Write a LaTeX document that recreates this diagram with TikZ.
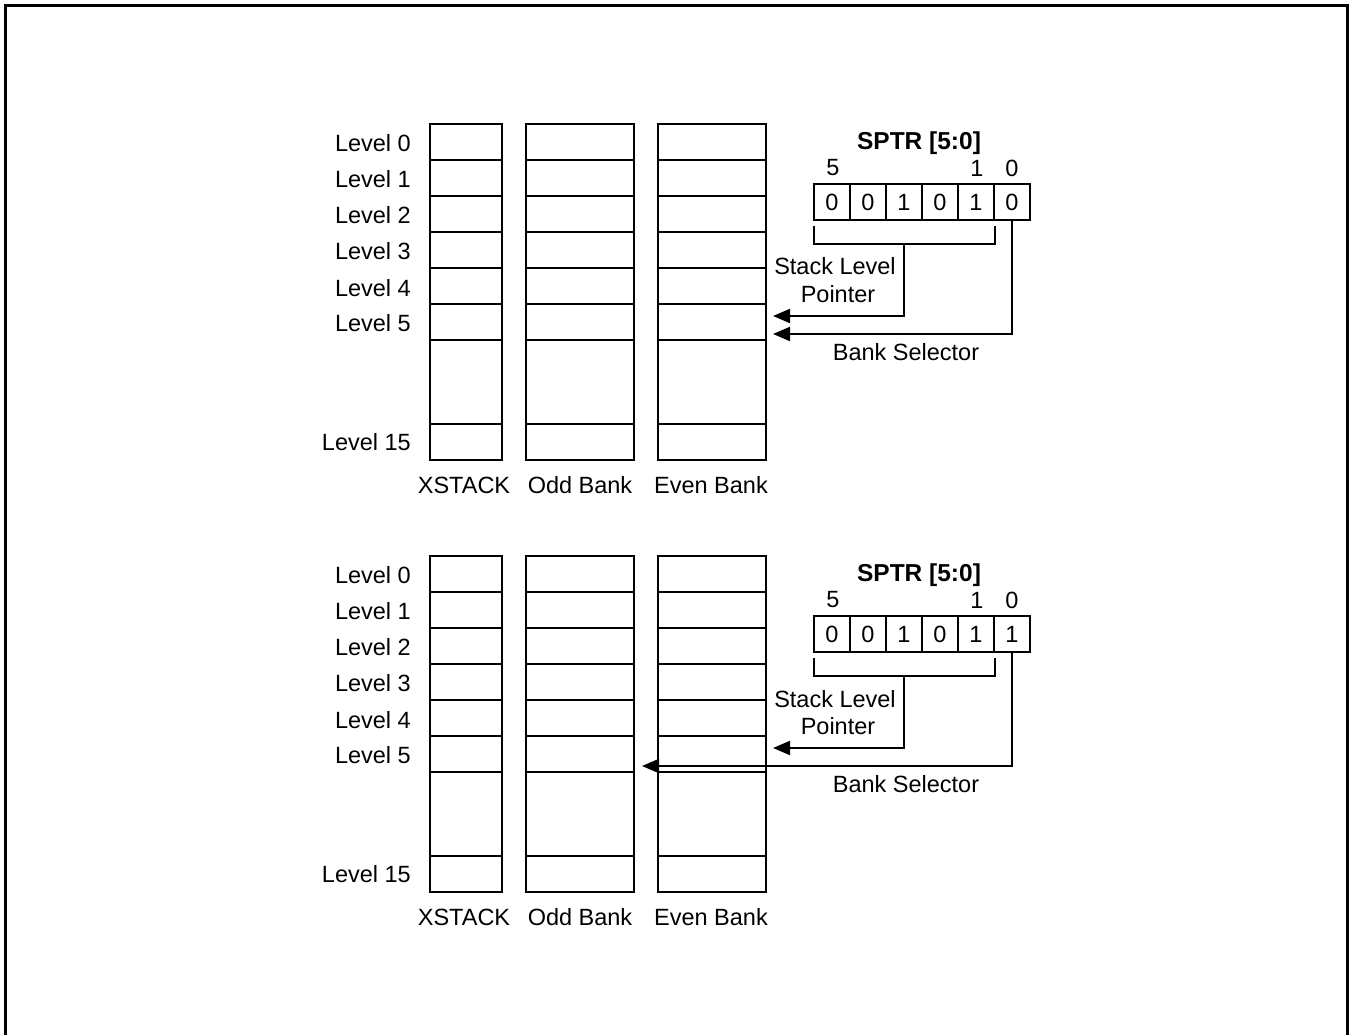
\documentclass[tikz,border=0pt]{standalone}
\usepackage{fontspec}
\setmainfont{Liberation Sans}
\usetikzlibrary{arrows.meta}
\newcommand\stackpanel[4]{% #1 prefix, #2 y offset, #3 bit 0 value, #4 x of bank selector tip
\begin{scope}[shift={(0,#2)}]
  % stack columns
  \foreach \xa/\xb in {430/502, 526/634, 658/766}{
    \draw[box] (\xa,124) rectangle (\xb,460);
    \foreach \yy in {160,196,232,268,304,340,424}{
      \draw[box] (\xa,\yy) -- (\xb,\yy);
    }
  }
  % level labels
  \foreach \t/\yy [count=\i] in {Level 0/143, Level 1/179, Level 2/215, Level 3/251, Level 4/288, Level 5/323, Level 15/442}{
    \node[lbl, anchor=east] (#1lev\i) at (411,\yy) {\t};
  }
  \node[lbl] (#1xs) at (464,485) {XSTACK};
  \node[lbl] (#1odd) at (580,485) {Odd Bank};
  \node[lbl] (#1even) at (711,485) {Even Bank};
  % SPTR register
  \node[lbl, font=\fontsize{24.5}{29}\selectfont\bfseries] (#1title) at (919,143) {SPTR [5:0]};
  \node[lbl] (#1b5) at (833,168) {5};
  \node[lbl] (#1b1) at (977,168) {1};
  \node[lbl] (#1b0) at (1012,168) {0};
  \foreach \v/\xx [count=\i] in {0/832, 0/868, 1/904, 0/940, 1/976, #3/1012}{
    \node[cell] (#1c\i) at (\xx,202) {\v};
  }
  % bracket for stack level pointer
  \draw[box] (814,226) -- (814,244) -- (995,244) -- (995,226);
  \coordinate (#1mid) at (904,244);
  \coordinate (#1slp) at (773,316);
  \coordinate (#1bsel) at (#4,334);
  \draw[ptr] (#1mid) |- (#1slp);
  \draw[ptr] (#1c6.south) |- (#1bsel);
  \node[lbl, anchor=base] (#1sl1) at (835,275) {Stack Level};
  \node[lbl, anchor=base] (#1sl2) at (838,302.5) {Pointer};
  \node[lbl, anchor=base] (#1bs) at (906,360.5) {Bank Selector};
\end{scope}}
\begin{document}
\begin{tikzpicture}[x=1pt,y=-1pt,
  lbl/.style={font=\fontsize{23.5}{28}\selectfont, inner sep=0pt},
  box/.style={line width=2pt},
  cell/.style={draw, line width=2pt, minimum width=36pt, minimum height=36pt, inner sep=0pt, font=\fontsize{23.5}{28}\selectfont},
  ptr/.style={line width=2pt, -{Triangle[length=17pt,width=14pt]}}]
\useasboundingbox (0,0) rectangle (1350,1035);
\draw[line width=3pt] (5.5,1045) -- (5.5,5.5) -- (1347.5,5.5) -- (1347.5,1045);
\stackpanel{a}{0}{0}{773}
\stackpanel{b}{432}{1}{642}
\end{tikzpicture}
\end{document}
